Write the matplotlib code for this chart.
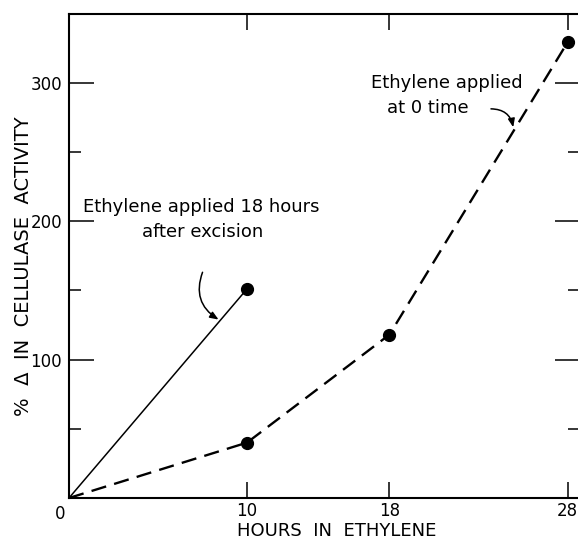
import numpy as np
import matplotlib
matplotlib.use('Agg')
import matplotlib.pyplot as plt
from matplotlib.ticker import FixedLocator

##### DATA #####
# ethylene applied 18 hours after excision
hours_late = [0, 10]
activity_late = [0, 151]

# ethylene applied at 0 time
hours_zero = [0, 10, 18, 28]
activity_zero = [0, 40, 118, 329]

x_ticks = [10, 18, 28]
y_major = [100, 200, 300]
y_minor = [50, 150, 250]

plt.rcParams['font.family'] = ['DejaVu Sans']
plt.rcParams['lines.scale_dashes'] = False

##### PLOT #####
fig = plt.figure(figsize=(5.78, 5.40), dpi=100)
# right spine sits just outside the picture, like the scanned figure
ax = fig.add_axes([69 / 578, 42 / 540, 511 / 578, 484 / 540])

# lines
ax.plot(hours_late, activity_late, color='k', lw=1.1, solid_capstyle='butt')
ax.plot(hours_zero, activity_zero, color='k', lw=1.7, dashes=(11, 6), dash_capstyle='butt')

# dots (no dot at the origin)
ax.plot(hours_late[1:], activity_late[1:], 'o', color='k', ms=8.5, zorder=5)
ax.plot(hours_zero[1:], activity_zero[1:], 'o', color='k', ms=8.5, zorder=5)

ax.set_xlim(0, 28.7)
ax.set_ylim(0, 349.5)

# ticks pointing in on all four sides
ax.xaxis.set_major_locator(FixedLocator(x_ticks))
ax.yaxis.set_major_locator(FixedLocator(y_major))
ax.yaxis.set_minor_locator(FixedLocator(y_minor))
ax.tick_params(axis='x', which='major', direction='in', length=11.5, width=1.1,
               top=True, bottom=True, labelsize=12, pad=3)
ax.tick_params(axis='y', which='major', direction='in', length=18, width=1.1,
               left=True, right=True, labelsize=12, pad=5)
ax.tick_params(axis='y', which='minor', direction='in', length=8.5, width=1.1,
               left=True, right=True)

# single "0" at the corner
ax.text(-0.2, -5, '0', ha='right', va='top', fontsize=12)

for s in ax.spines.values():
    s.set_linewidth(1.5)

ax.set_xlabel('HOURS  IN  ETHYLENE', fontsize=13)
ax.xaxis.set_label_coords(0.524, -0.049)
ax.set_ylabel('%  Δ  IN  CELLULASE  ACTIVITY', fontsize=14)
ax.yaxis.set_label_coords(-0.07, 0.479)

##### NOTES #####
ax.text(7.42, 210, 'Ethylene applied 18 hours', ha='center', va='center', fontsize=13)
ax.text(7.53, 192, 'after excision', ha='center', va='center', fontsize=13)
head1_x = 8.4
head1_y = np.interp(head1_x, hours_late, activity_late)
ax.annotate('', xy=(head1_x, head1_y + 2), xytext=(7.5, 163),
            arrowprops=dict(arrowstyle='-|>,head_length=0.5,head_width=0.2', color='k', lw=1.1,
                            connectionstyle='arc3,rad=0.4', shrinkA=0, shrinkB=0))

ax.text(16.97, 299.6, 'Ethylene applied', ha='left', va='center', fontsize=13)
ax.text(17.87, 281.6, 'at 0 time', ha='left', va='center', fontsize=13)
head2_x = 25.0
head2_y = np.interp(head2_x, hours_zero, activity_zero)
ax.annotate('', xy=(head2_x - 0.05, head2_y + 2), xytext=(23.7, 281),
            arrowprops=dict(arrowstyle='-|>,head_length=0.5,head_width=0.2', color='k', lw=1.1,
                            connectionstyle='arc3,rad=-0.4', shrinkA=0, shrinkB=0))

plt.savefig('out.png', dpi=100, facecolor='white')
